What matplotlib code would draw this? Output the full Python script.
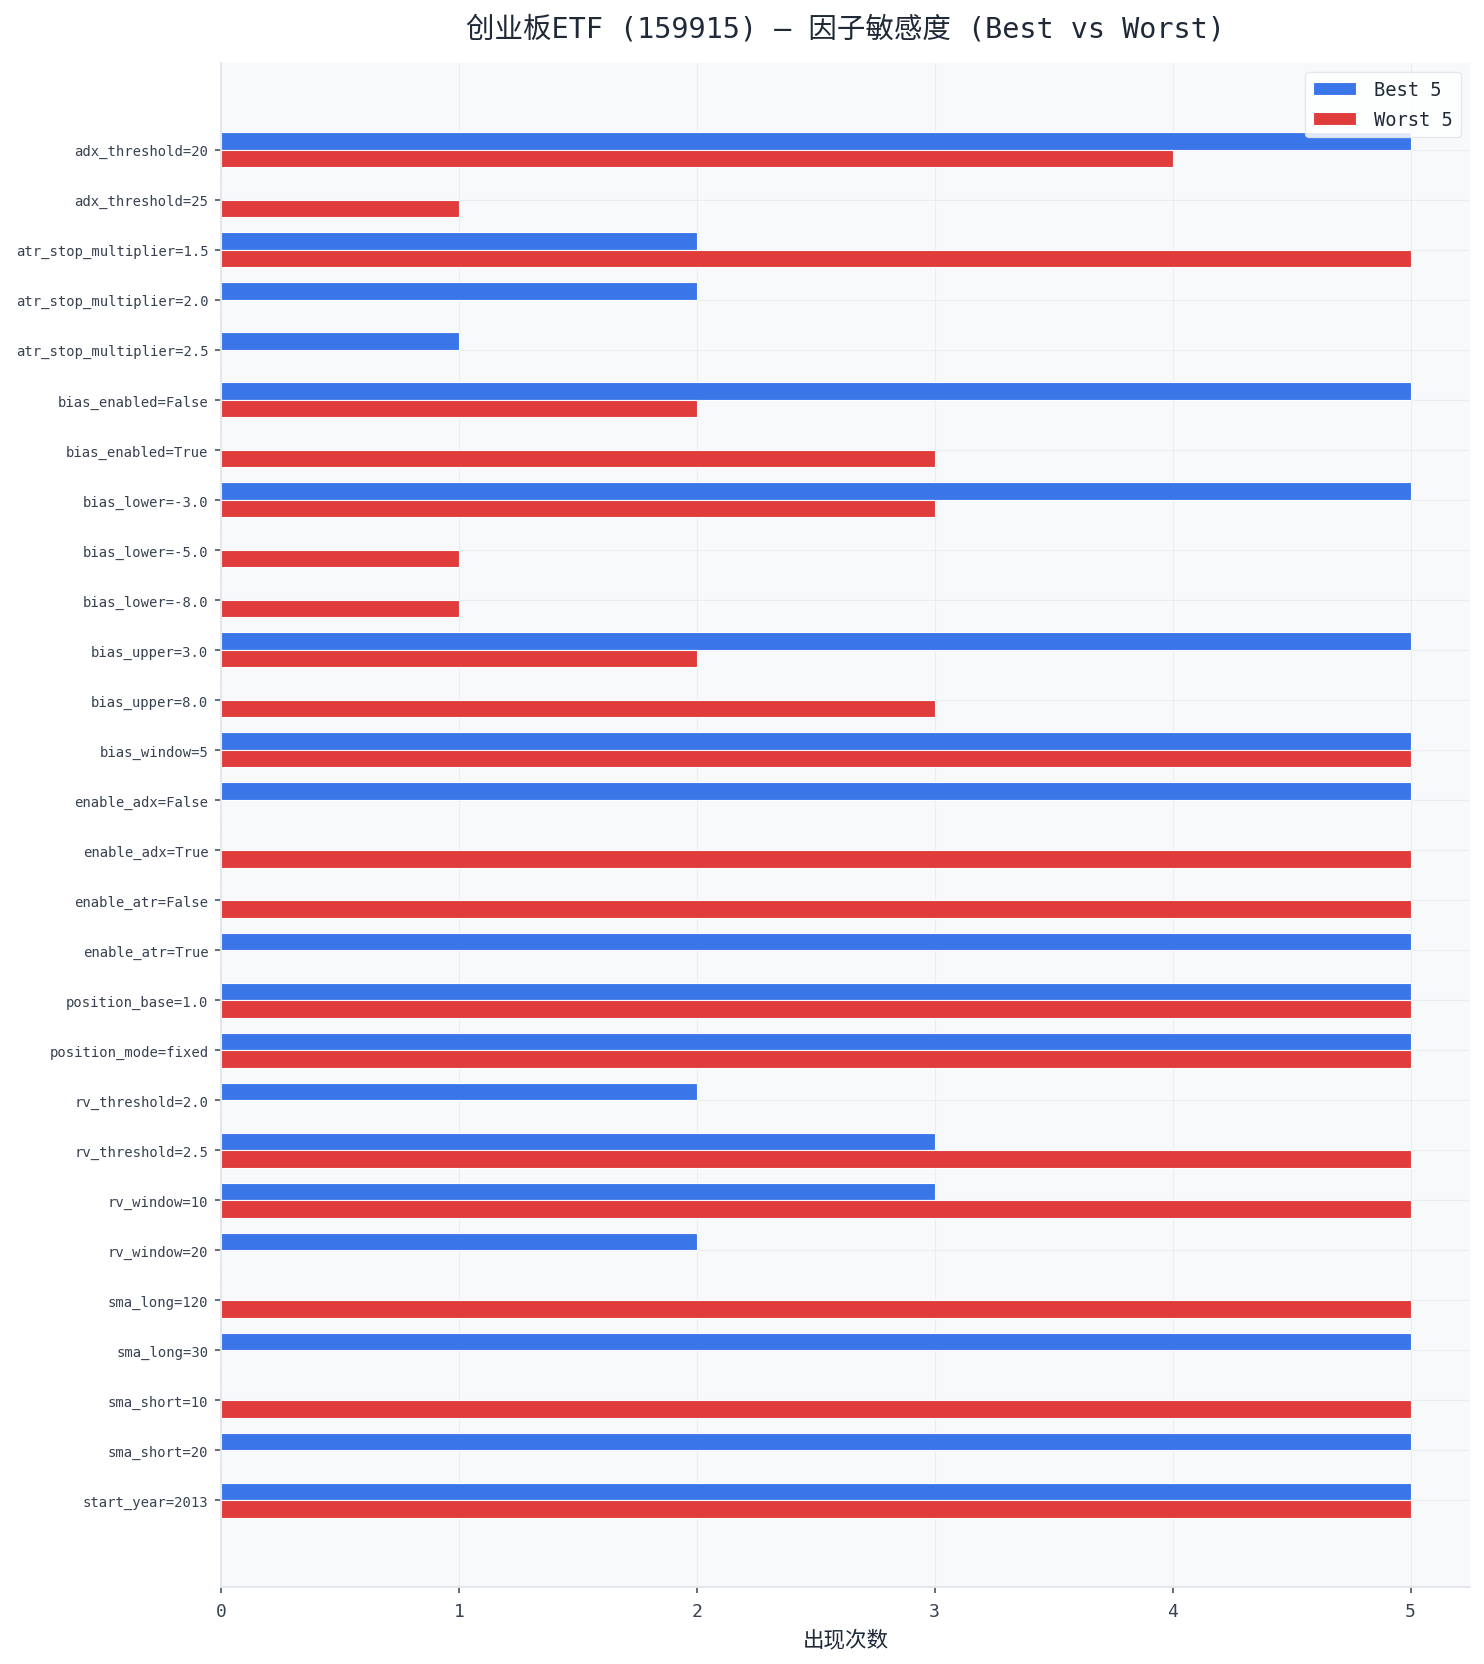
import matplotlib
matplotlib.use("Agg")
import matplotlib.pyplot as plt
import numpy as np

plt.rcParams['font.family'] = ['DejaVu Sans Mono', 'Noto Sans CJK SC']

factors = [
    "adx_threshold=20", "adx_threshold=25",
    "atr_stop_multiplier=1.5", "atr_stop_multiplier=2.0", "atr_stop_multiplier=2.5",
    "bias_enabled=False", "bias_enabled=True",
    "bias_lower=-3.0", "bias_lower=-5.0", "bias_lower=-8.0",
    "bias_upper=3.0", "bias_upper=8.0",
    "bias_window=5",
    "enable_adx=False", "enable_adx=True",
    "enable_atr=False", "enable_atr=True",
    "position_base=1.0", "position_mode=fixed",
    "rv_threshold=2.0", "rv_threshold=2.5",
    "rv_window=10", "rv_window=20",
    "sma_long=120", "sma_long=30",
    "sma_short=10", "sma_short=20",
    "start_year=2013",
]
best5 = [5, 0, 2, 2, 1, 5, 0, 5, 0, 0, 5, 0, 5, 5, 0, 0, 5, 5, 5, 2, 3, 3, 2, 0, 5, 0, 5, 5]
worst5 = [4, 1, 5, 0, 0, 2, 3, 3, 1, 1, 2, 3, 5, 0, 5, 5, 0, 5, 5, 0, 5, 5, 0, 5, 0, 5, 0, 5]

title = "创业板ETF (159915) — 因子敏感度 (Best vs Worst)"
xlabel = "出现次数"
series_names = ["Best 5", "Worst 5"]

BLUE = "#3b76e9"
RED = "#e03c3c"
TEXT = "#1f2937"

fig = plt.figure(figsize=(14.84, 16.65), dpi=100)
ax = fig.add_axes([221 / 1484, 1 - 1588 / 1665, (1470 - 221) / 1484, (1588 - 64) / 1665])
ax.set_facecolor("#f8f9fb")

y = np.arange(len(factors))
h = 0.35
ax.barh(y - h / 2, best5, height=h, color=BLUE, edgecolor="white", linewidth=0.8, label=series_names[0], zorder=2)
ax.barh(y + h / 2, worst5, height=h, color=RED, edgecolor="white", linewidth=0.8, label=series_names[1], zorder=2)

ax.set_yticks(y)
ax.set_yticklabels(factors, fontsize=10, color="#374151")
ax.invert_yaxis()
ax.set_xticks([0, 1, 2, 3, 4, 5])
ax.tick_params(axis="x", labelsize=13, colors="#374151", pad=7)
ax.tick_params(axis="y", pad=5)
ax.tick_params(axis="both", length=4, width=1.2, color="#4b5563")

ax.set_xlabel(xlabel, fontsize=15.5, color=TEXT, family=['Noto Sans CJK SC', 'DejaVu Sans'], labelpad=6)
ax.set_title(title, fontsize=20.5, color=TEXT, pad=19)

for s in ["top", "right"]:
    ax.spines[s].set_visible(False)
for s in ["left", "bottom"]:
    ax.spines[s].set_color("#e2e5ea")
    ax.spines[s].set_linewidth(1.3)
    ax.spines[s].set_zorder(2.5)

ax.grid(True, color="#e6e8ec", linewidth=0.8, alpha=0.7, zorder=0)
ax.set_axisbelow(True)

leg = ax.legend(loc="upper right", fontsize=13.5, frameon=True, fancybox=True,
                edgecolor="#e2e5ea", facecolor="white", framealpha=0.85,
                handlelength=2.3, handletextpad=1.0, labelspacing=0.6)
for t in leg.get_texts():
    t.set_color(TEXT)

fig.savefig("out.png", dpi=100)
